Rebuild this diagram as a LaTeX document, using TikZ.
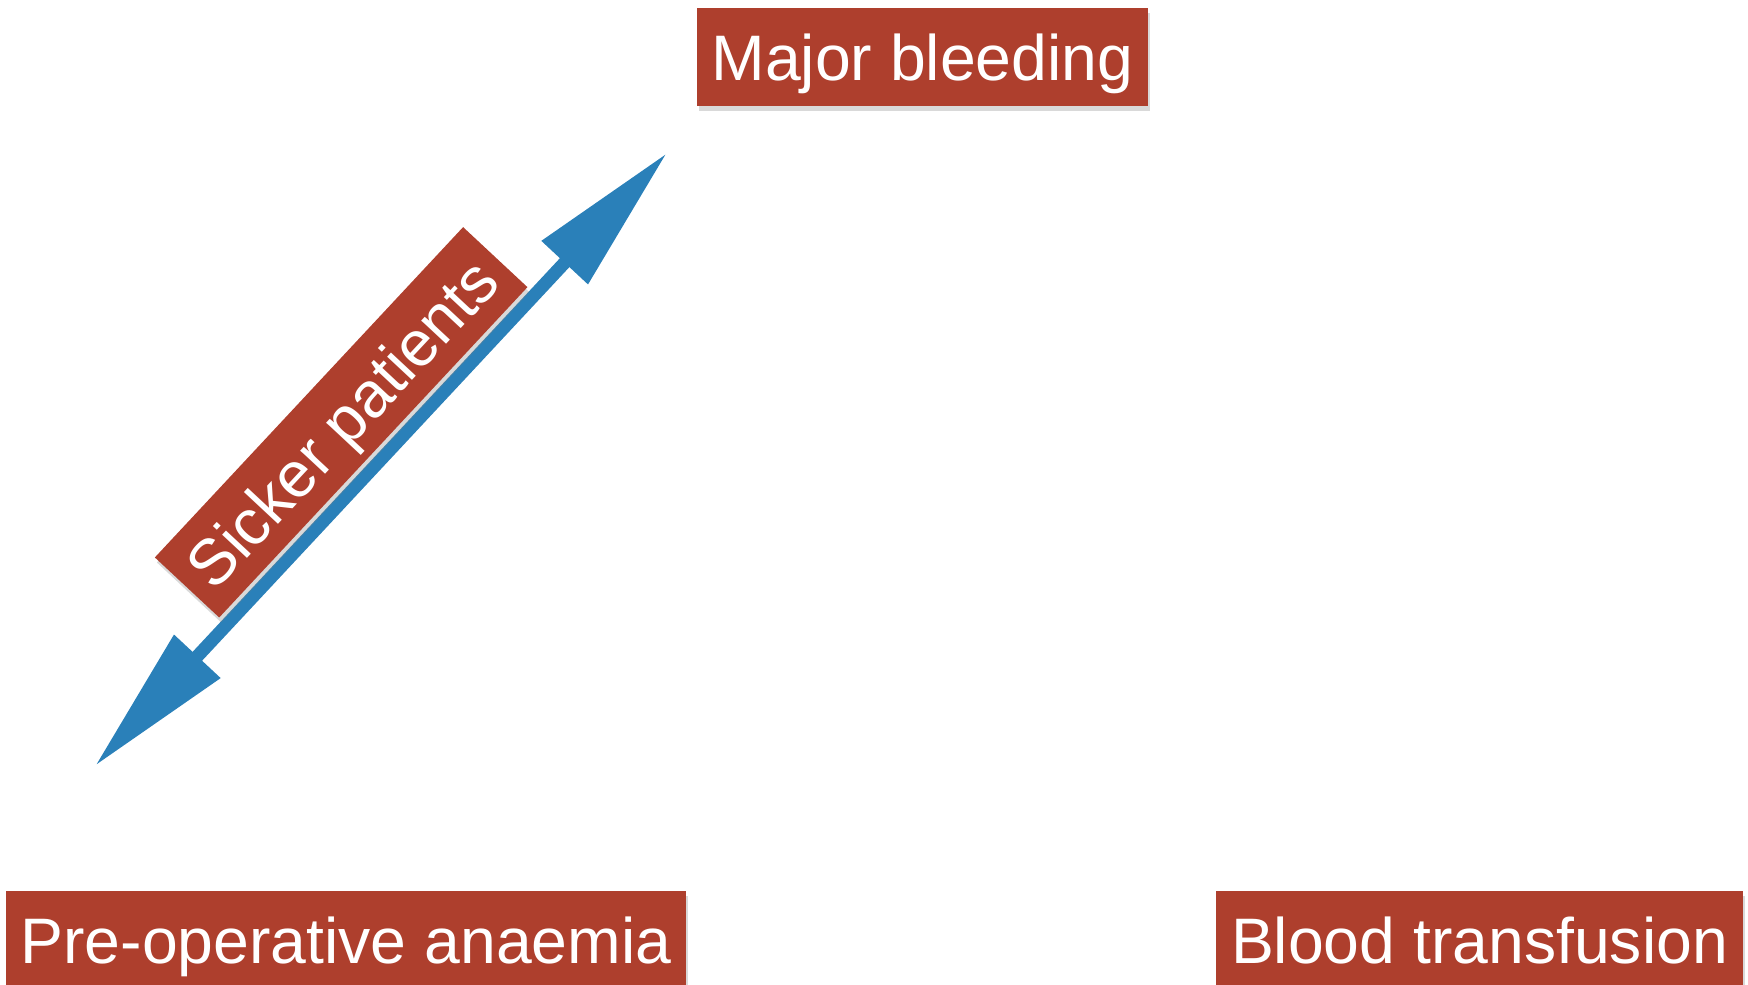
\documentclass[tikz,border=0pt]{standalone}
\usepackage{fontspec}
\setmainfont{Liberation Sans}
\usetikzlibrary{arrows.meta,shadows}
\definecolor{boxred}{HTML}{AE3F2D}
\definecolor{arrowblue}{HTML}{2A80B9}

\begin{document}
\begin{tikzpicture}[
 redbox/.style={fill=boxred,text=white,inner xsep=0.15cm,inner ysep=0.11cm,
  text height=0.62cm,text depth=0.14cm,font=\fontsize{18.3}{22}\selectfont,
  drop shadow={shadow xshift=0.02cm,shadow yshift=-0.05cm,opacity=0.3}},
 twoway/.style={arrowblue,line width=0.13cm,
  {Triangle[length=1.5cm,width=0.6cm]}-{Triangle[length=1.5cm,width=0.6cm]}}]
\useasboundingbox (0,0) rectangle (17.48,9.85);
\node[redbox] (bleed) at (9.225,9.28) {Major bleeding};
\node[redbox] (anaemia) at (3.46,0.45) {Pre-operative anaemia};
\node[redbox] (transf) at (14.795,0.45) {Blood transfusion};
\coordinate (lo) at (0.95,2.19);
\coordinate (hi) at (6.67,8.32);
\draw[twoway] (lo) -- (hi) node[redbox,inner ysep=0.06cm,midway,sloped,above=0.04cm] (sick) {Sicker patients};
\end{tikzpicture}
\end{document}
